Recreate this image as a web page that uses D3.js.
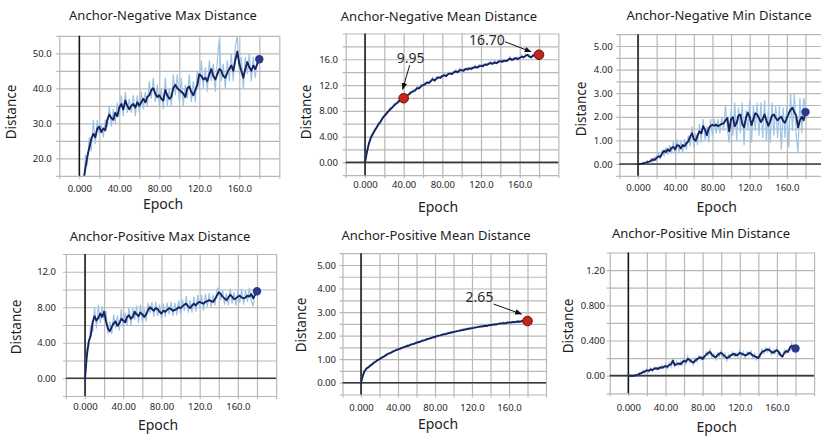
<!DOCTYPE html>
<html>
<head>
<meta charset="utf-8">
<script src="https://cdn.jsdelivr.net/npm/d3@7"></script>
<style>
body { margin: 0; background: #fff; }
svg text { font-family: "Noto Sans", sans-serif; fill: #1e1e1e; }
</style>
</head>
<body>
<script>
const epochs = [0, 2, 4, 6, 8, 10, 12, 14, 16, 18,
  20, 22, 24, 26, 28, 30, 32, 34, 36, 38,
  40, 42, 44, 46, 48, 50, 52, 54, 56, 58,
  60, 62, 64, 66, 68, 70, 72, 74, 76, 78,
  80, 82, 84, 86, 88, 90, 92, 94, 96, 98,
  100, 102, 104, 106, 108, 110, 112, 114, 116, 118,
  120, 122, 124, 126, 128, 130, 132, 134, 136, 138,
  140, 142, 144, 146, 148, 150, 152, 154, 156, 158,
  160, 162, 164, 166, 168, 170, 172, 174, 176, 178,
  180]

const titles = ['Anchor-Negative Max Distance', 'Anchor-Negative Mean Distance', 'Anchor-Negative Min Distance',
  'Anchor-Positive Max Distance', 'Anchor-Positive Mean Distance', 'Anchor-Positive Min Distance']

const xTicks = [0, 40, 80, 120, 160]
const xGrid = [-20, 0, 20, 40, 60, 80, 100, 120, 140, 160, 180, 200]

// Anchor-Negative Max
const anMaxRaw = [3, 14, 10, 21, 18, 26, 22, 31, 24, 31,
  27, 30, 26, 31, 29, 35, 29, 34, 30, 36,
  32, 38, 32, 39, 33, 37, 33, 38, 32, 38,
  33, 39, 34, 39, 35, 42, 37, 43, 36, 41,
  35, 40, 34, 43, 35, 40, 35, 44, 38, 44,
  36, 43, 35, 41, 37, 44, 36, 42, 36, 45,
  40, 48, 40, 46, 39, 48, 42, 47, 39, 48,
  54, 42, 47, 40, 48, 42, 50, 42, 52, 55,
  44, 49, 40, 49, 44, 50, 42, 49, 43, 49,
  48]
const anMaxSmooth = [5, 9, 13, 17, 20.5, 23, 25.5, 27, 26, 28.5,
  29, 27.5, 28.5, 28, 31, 32.5, 31.5, 31, 33, 32,
  34.5, 35.5, 34, 36.5, 35, 34, 35, 35.5, 34.5, 36,
  35, 36, 37, 36, 37.5, 38, 39.5, 40, 38.5, 37.5,
  38, 37, 36.5, 39.5, 38, 37, 37.5, 40, 41, 40,
  39.5, 39, 38.5, 37.5, 40, 40.5, 39, 38, 39.5, 41,
  44, 43.5, 42.5, 43, 42, 44, 45.5, 43.5, 42.5, 44,
  45.5, 45, 43.5, 43, 44.5, 45.5, 46.5, 45, 48, 50.5,
  47, 45, 43, 45.5, 47.5, 46, 45, 46.5, 45.5, 47,
  48.3]
const anMaxTicks = [20, 30, 40, 50]

// Anchor-Negative Mean
const anMeanRaw = [0, 1.9, 2.7, 4.1, 4.3, 5.2, 5.3, 6.1, 6.2, 7.0,
  7.1, 7.8, 7.8, 8.5, 8.4, 9.1, 9.0, 9.6, 9.5, 10.0,
  9.9, 10.5, 10.3, 10.9, 10.8, 11.3, 11.1, 11.8, 11.4, 12.1,
  11.9, 12.4, 12.3, 12.6, 12.5, 13.2, 12.6, 13.3, 13.1, 13.4,
  13.3, 13.8, 13.3, 14.0, 13.7, 14.0, 13.9, 14.4, 13.9, 14.6,
  14.2, 14.5, 14.4, 14.7, 14.5, 14.8, 14.6, 15.1, 14.6, 15.2,
  14.9, 15.2, 15.1, 15.4, 15.2, 15.7, 15.2, 15.8, 15.3, 15.9,
  15.6, 15.9, 15.7, 16.0, 15.8, 16.4, 15.8, 16.3, 16.1, 16.3,
  16.1, 16.7, 16.2, 16.8, 16.6, 16.7, 16.2, 16.9, 16.4, 16.9,
  16.7]
const anMeanSmooth = [0, 1.6, 2.9, 3.8, 4.4, 4.9, 5.4, 5.9, 6.3, 6.8,
  7.2, 7.5, 7.9, 8.2, 8.5, 8.8, 9.1, 9.3, 9.6, 9.8,
  9.95, 10.2, 10.4, 10.6, 10.9, 11.0, 11.2, 11.5, 11.5, 11.8,
  12.0, 12.1, 12.4, 12.3, 12.6, 12.9, 12.7, 13.0, 13.2, 13.1,
  13.4, 13.5, 13.4, 13.7, 13.8, 13.7, 14.0, 14.1, 14.0, 14.3,
  14.3, 14.2, 14.5, 14.4, 14.6, 14.5, 14.7, 14.8, 14.7, 14.9,
  15.0, 14.9, 15.2, 15.1, 15.3, 15.4, 15.3, 15.5, 15.4, 15.6,
  15.7, 15.6, 15.8, 15.7, 15.9, 16.1, 15.9, 16.0, 16.2, 16.0,
  16.2, 16.4, 16.3, 16.5, 16.7, 16.4, 16.3, 16.6, 16.5, 16.7,
  16.7]
const anMeanTicks = [0, 4, 8, 12, 16]
const anMeanNotes = [[40, 9.95, '9.95'], [180, 16.70, '16.70']]

// Anchor-Negative Min
const anMinRaw = [0, 0.02, 0, 0.08, 0.02, 0.15, 0.05, 0.22, 0.1, 0.3,
  0.15, 0.45, 0.2, 0.6, 0.35, 0.7, 0.4, 0.8, 0.45, 0.95,
  0.4, 1.05, 0.5, 1.0, 0.45, 1.05, 0.6, 1.2, 0.75, 1.6,
  0.7, 1.3, 0.8, 1.7, 0.9, 1.9, 1.0, 1.6, 0.9, 1.9,
  1.2, 1.9, 1.3, 1.9, 1.3, 2.0, 1.4, 2.5, 1.5, 0.9,
  2.3, 1.2, 2.6, 1.0, 2.4, 1.3, 2.6, 0.8, 2.3, 1.4,
  2.7, 0.9, 2.5, 1.4, 2.6, 1.2, 2.6, 1.1, 2.7, 1.0,
  2.3, 0.9, 2.6, 1.2, 2.5, 1.1, 2.5, 0.6, 2.4, 1.1,
  2.5, 0.7, 3.0, 1.4, 3.0, 1.2, 0.5, 2.8, 1.3, 2.8,
  2.2]
const anMinSmooth = [0, 0, 0.01, 0.03, 0.05, 0.08, 0.1, 0.13, 0.2, 0.17,
  0.26, 0.32, 0.3, 0.45, 0.56, 0.5, 0.62, 0.55, 0.68, 0.72,
  0.62, 0.8, 0.78, 0.66, 0.8, 0.75, 0.88, 0.95, 1.15, 1.3,
  1.05, 0.98, 1.2, 1.38, 1.3, 1.6, 1.45, 1.22, 1.5, 1.62,
  1.66, 1.62, 1.67, 1.6, 1.65, 1.7, 1.72, 1.85, 1.95, 1.38,
  1.9, 1.98, 1.6, 1.75, 2.05, 2.1, 1.7, 1.55, 1.95, 2.18,
  2.0, 1.65, 1.9, 2.15, 2.1, 1.95, 1.78, 1.9, 2.1, 1.85,
  1.62, 1.8, 2.05, 2.1, 1.95, 1.85, 1.95, 2.0, 1.82, 1.75,
  1.95, 2.15, 2.3, 2.38, 2.2, 2.05, 1.55, 1.85, 2.0, 1.85,
  2.2]
const anMinTicks = [0, 1, 2, 3, 4, 5]

// Anchor-Positive Max
const apMaxRaw = [0, 3.4, 3.6, 6.0, 5.2, 8.0, 5.6, 8.3, 6.2, 8.1,
  6.6, 7.6, 5.0, 6.4, 5.0, 7.2, 5.6, 7.1, 5.4, 7.8,
  5.7, 7.4, 6.0, 8.0, 5.9, 7.9, 6.6, 8.2, 6.2, 8.3,
  6.3, 7.8, 6.4, 8.5, 7.3, 8.6, 6.9, 8.6, 7.0, 8.3,
  6.7, 8.4, 6.9, 8.5, 7.2, 8.6, 7.0, 8.5, 7.1, 8.8,
  7.2, 8.9, 7.6, 9.3, 7.4, 8.8, 7.4, 9.2, 7.5, 9.4,
  7.9, 9.4, 7.6, 9.5, 8.0, 9.6, 8.0, 9.4, 8.2, 10.0,
  10.2, 8.8, 10.0, 8.3, 9.6, 8.2, 10.1, 8.4, 9.7, 8.2,
  10.0, 8.5, 10.1, 8.3, 9.9, 8.6, 10.2, 8.7, 8.1, 10.0,
  9.8]
const apMaxSmooth = [0, 2.6, 4.2, 4.8, 6.3, 7.0, 6.5, 6.8, 7.3, 6.9,
  7.5, 6.4, 5.6, 5.3, 5.8, 6.2, 6.4, 5.9, 6.2, 6.7,
  6.5, 6.3, 6.9, 7.1, 6.7, 6.9, 7.5, 7.2, 7.0, 7.4,
  7.2, 6.9, 7.2, 7.7, 8.0, 7.8, 7.6, 7.9, 7.8, 7.5,
  7.3, 7.6, 7.5, 7.7, 7.9, 7.8, 7.6, 7.7, 7.8, 8.0,
  7.9, 8.1, 8.3, 8.4, 8.1, 7.9, 8.2, 8.4, 8.2, 8.5,
  8.6, 8.5, 8.4, 8.6, 8.7, 8.8, 8.7, 8.6, 8.9, 9.3,
  9.7, 9.5, 9.2, 9.0, 8.8, 9.1, 9.4, 9.2, 8.9, 9.0,
  9.2, 9.3, 9.1, 9.0, 9.1, 9.3, 9.2, 9.5, 9.0, 9.4,
  9.8]
const apMaxTicks = [0, 4, 8, 12]

// Anchor-Positive Mean
const apMeanRaw = [0, 0.36, 0.47, 0.65, 0.63, 0.77, 0.75, 0.9, 0.87, 1.0,
  0.97, 1.09, 1.07, 1.18, 1.17, 1.28, 1.24, 1.35, 1.32, 1.42,
  1.39, 1.48, 1.45, 1.54, 1.5, 1.6, 1.55, 1.66, 1.61, 1.7,
  1.67, 1.76, 1.71, 1.82, 1.77, 1.86, 1.83, 1.91, 1.87, 1.97,
  1.91, 2.02, 1.97, 2.05, 2.01, 2.1, 2.04, 2.14, 2.09, 2.17,
  2.13, 2.21, 2.16, 2.24, 2.2, 2.28, 2.23, 2.31, 2.26, 2.34,
  2.29, 2.37, 2.32, 2.4, 2.35, 2.43, 2.37, 2.46, 2.38, 2.48,
  2.42, 2.5, 2.45, 2.51, 2.47, 2.55, 2.49, 2.57, 2.49, 2.59,
  2.53, 2.59, 2.55, 2.61, 2.56, 2.64, 2.56, 2.66, 2.58, 2.67,
  2.62]
const apMeanSmooth = [0, 0.3, 0.5, 0.6, 0.66, 0.72, 0.78, 0.85, 0.9, 0.96,
  1.0, 1.05, 1.1, 1.14, 1.2, 1.24, 1.27, 1.31, 1.35, 1.38,
  1.42, 1.44, 1.48, 1.5, 1.53, 1.56, 1.58, 1.62, 1.64, 1.66,
  1.7, 1.72, 1.74, 1.78, 1.8, 1.82, 1.86, 1.87, 1.9, 1.93,
  1.94, 1.98, 2.0, 2.01, 2.04, 2.06, 2.07, 2.1, 2.12, 2.13,
  2.16, 2.17, 2.19, 2.2, 2.23, 2.24, 2.26, 2.27, 2.29, 2.3,
  2.32, 2.33, 2.35, 2.36, 2.38, 2.39, 2.4, 2.42, 2.41, 2.44,
  2.45, 2.46, 2.48, 2.47, 2.5, 2.51, 2.52, 2.53, 2.52, 2.55,
  2.56, 2.55, 2.58, 2.57, 2.59, 2.6, 2.59, 2.62, 2.61, 2.63,
  2.62]
const apMeanTicks = [0, 1, 2, 3, 4, 5]
const apMeanNotes = [[180, 2.62, '2.65']]

// Anchor-Positive Min
const apMinRaw = [0, 0, 0.005, 0, 0.015, 0, 0.035, 0.015, 0.06, 0.03,
  0.08, 0.04, 0.09, 0.05, 0.1, 0.07, 0.1, 0.07, 0.12, 0.08,
  0.13, 0.08, 0.15, 0.1, 0.2, 0.1, 0.16, 0.11, 0.16, 0.12,
  0.2, 0.13, 0.22, 0.15, 0.19, 0.12, 0.2, 0.16, 0.23, 0.18,
  0.22, 0.19, 0.27, 0.23, 0.3, 0.21, 0.25, 0.18, 0.26, 0.22,
  0.29, 0.21, 0.25, 0.17, 0.24, 0.2, 0.27, 0.22, 0.26, 0.21,
  0.29, 0.22, 0.27, 0.2, 0.27, 0.23, 0.28, 0.2, 0.25, 0.18,
  0.23, 0.21, 0.3, 0.25, 0.32, 0.27, 0.32, 0.24, 0.29, 0.25,
  0.32, 0.24, 0.26, 0.19, 0.29, 0.25, 0.3, 0.29, 0.37, 0.3,
  0.31]
const apMinSmooth = [0, 0, 0, 0, 0.005, 0.01, 0.02, 0.03, 0.04, 0.05,
  0.06, 0.055, 0.07, 0.065, 0.08, 0.085, 0.075, 0.095, 0.09, 0.1,
  0.11, 0.1, 0.12, 0.13, 0.17, 0.12, 0.13, 0.14, 0.13, 0.15,
  0.17, 0.16, 0.19, 0.18, 0.16, 0.15, 0.17, 0.19, 0.2, 0.21,
  0.19, 0.22, 0.24, 0.26, 0.27, 0.24, 0.22, 0.21, 0.23, 0.25,
  0.26, 0.24, 0.22, 0.2, 0.21, 0.23, 0.24, 0.25, 0.23, 0.24,
  0.26, 0.25, 0.24, 0.23, 0.24, 0.26, 0.25, 0.23, 0.22, 0.21,
  0.2, 0.24, 0.27, 0.28, 0.29, 0.3, 0.29, 0.27, 0.26, 0.28,
  0.29, 0.27, 0.23, 0.22, 0.26, 0.28, 0.27, 0.32, 0.34, 0.33,
  0.31]
const apMinTicks = [0, 0.4, 0.8, 1.2]

const rawColor = '#9cc4e5'
const lineColor = '#17225f'
const dotColor = '#2b388c'
const redColor = '#c2261c'

// layout of each panel
const panels = [
  {title: titles[0], raw: anMaxRaw, smooth: anMaxSmooth, ticks: anMaxTicks, dom: [15, 55], step: 5,
   xs: [79.3, 259.3], ys: [175.8, 35.8], tx: 163, ty: 15, dx: 11.7, dy: 112, ex: 163, ey: 204.5, lx: 188.5, rx: 51.7, notes: []},
  {title: titles[1], raw: anMeanRaw, smooth: anMeanSmooth, ticks: anMeanTicks, dom: [-2, 20], step: 2,
   xs: [365, 539], ys: [175.2, 33.5], tx: 439, ty: 16, dx: 306.7, dy: 112, ex: 438, ey: 207, lx: 185, rx: 338, notes: anMeanNotes},
  {title: titles[2], raw: anMinRaw, smooth: anMinSmooth, ticks: anMinTicks, dom: [-0.5, 5.5], step: 0.5,
   xs: [638, 805.5], ys: [175.8, 34.2], tx: 719, ty: 15, dx: 581.7, dy: 109, ex: 716.7, ey: 207, lx: 188, rx: 612.7, notes: []},
  {title: titles[3], raw: apMaxRaw, smooth: apMaxSmooth, ticks: apMaxTicks, dom: [-2, 14], step: 2,
   xs: [85, 257], ys: [396, 254], tx: 160, ty: 236.7, dx: 16.7, dy: 327, ex: 158, ey: 425, lx: 406.7, rx: 56, notes: []},
  {title: titles[4], raw: apMeanRaw, smooth: apMeanSmooth, ticks: apMeanTicks, dom: [-0.5, 5.5], step: 0.5,
   xs: [361, 527.5], ys: [394.5, 253.2], tx: 436, ty: 235, dx: 301.7, dy: 325, ex: 438, ey: 424, lx: 407.7, rx: 336, notes: apMeanNotes},
  {title: titles[5], raw: apMinRaw, smooth: apMinSmooth, ticks: apMinTicks, dom: [-0.2, 1.4], step: 0.2,
   xs: [628.3, 795.5], ys: [393.3, 252.5], tx: 701, ty: 233, dx: 568.3, dy: 326, ex: 716.7, ey: 427.5, lx: 407.7, rx: 605, notes: []}
]

// where the annotation text and arrow sit relative to the marked point
const noteOffsets = {'9.95': [7, -40, 6, -33, -1, -9], '16.70': [-52, -15, -34, -13, -8, -3], '2.65': [-48, -24, -34, -17, -6, -7]}

let svg = d3.select('body').append('svg')
  .attr('width', 821)
  .attr('height', 437)

svg.append('defs').append('marker')
  .attr('id', 'arrow')
  .attr('viewBox', '0 0 10 10')
  .attr('refX', 9).attr('refY', 5)
  .attr('markerWidth', 7).attr('markerHeight', 7)
  .attr('orient', 'auto')
  .append('path')
  .attr('d', 'M0,1 L10,5 L0,9 Z')
  .attr('fill', '#111')

let xFmt = d3.format('.4r')
let yFmt = d3.format('.3r')

panels.forEach((p, i) => {
  let pxPer = (p.xs[1] - p.xs[0]) / 180
  let x = d3.scaleLinear().domain([-20, 200]).range([p.xs[0] - 20 * pxPer, p.xs[0] + 200 * pxPer])
  let y = d3.scaleLinear().domain(p.dom).range(p.ys)
  let left = x(-20), right = Math.min(x(200), 821), top = y(p.dom[1]), bottom = y(p.dom[0])

  let g = svg.append('g')

  // grid
  let yGrid = d3.range(p.dom[0], p.dom[1] + p.step / 2, p.step)
  g.append('g')
    .attr('transform', `translate(${left - 3}, 0)`)
    .call(d3.axisLeft(y).tickValues(yGrid).tickSize(-(right - left + 3)).tickFormat(''))
    .call(a => a.select('.domain').remove())
    .call(a => a.selectAll('line').attr('stroke', '#b8b8b8').attr('stroke-width', 1.2))

  g.append('g')
    .attr('transform', `translate(0, ${bottom + 3})`)
    .call(d3.axisBottom(x).tickValues(xGrid).tickSize(-(bottom - top + 3)).tickFormat(''))
    .call(a => a.select('.domain').remove())
    .call(a => a.selectAll('line').attr('stroke', '#b8b8b8').attr('stroke-width', 1.2))

  // zero lines
  if (p.dom[0] < 0) {
    g.append('line')
      .attr('x1', left).attr('x2', right)
      .attr('y1', y(0)).attr('y2', y(0))
      .attr('stroke', '#3a3a3a').attr('stroke-width', 1.7)
  }
  g.append('line')
    .attr('x1', x(0)).attr('x2', x(0))
    .attr('y1', top).attr('y2', bottom)
    .attr('stroke', '#151515').attr('stroke-width', 1.5)

  // tick labels
  g.append('g')
    .attr('transform', `translate(0, ${p.lx - 4})`)
    .call(d3.axisBottom(x).tickValues(xTicks).tickSize(0).tickFormat(xFmt))
    .call(a => a.select('.domain').remove())
    .call(a => a.selectAll('text').attr('font-size', 9.5).attr('dy', '0.35em').attr('y', 4).style('font-family', '"Noto Sans", sans-serif'))

  g.append('g')
    .attr('transform', `translate(${p.rx}, 0)`)
    .call(d3.axisLeft(y).tickValues(p.ticks).tickSize(0).tickPadding(0).tickFormat(yFmt))
    .call(a => a.select('.domain').remove())
    .call(a => a.selectAll('text').attr('font-size', 9.5).style('font-family', '"Noto Sans", sans-serif'))

  // clip
  g.append('clipPath').attr('id', 'clip' + i)
    .append('rect')
    .attr('x', left).attr('y', top)
    .attr('width', right - left).attr('height', bottom - top)

  let line = (vals) => d3.line()
    .x((d, k) => x(epochs[k]))
    .y(d => y(d))(vals)

  g.append('path')
    .attr('d', line(p.raw))
    .attr('fill', 'none')
    .attr('stroke', rawColor)
    .attr('stroke-width', 1.2)
    .attr('clip-path', `url(#clip${i})`)

  g.append('path')
    .attr('d', line(p.smooth))
    .attr('fill', 'none')
    .attr('stroke', lineColor)
    .attr('stroke-width', 1.9)
    .attr('stroke-linejoin', 'round')
    .attr('clip-path', `url(#clip${i})`)

  // end dot / annotated points
  if (p.notes.length == 0) {
    g.append('circle')
      .attr('cx', x(epochs[epochs.length - 1]))
      .attr('cy', y(p.smooth[p.smooth.length - 1]))
      .attr('r', 4.2)
      .attr('fill', dotColor)
  }
  p.notes.forEach(n => {
    let cx = x(n[0]), cy = y(n[1])
    let o = noteOffsets[n[2]]
    g.append('line')
      .attr('x1', cx + o[2]).attr('y1', cy + o[3])
      .attr('x2', cx + o[4]).attr('y2', cy + o[5])
      .attr('stroke', '#111').attr('stroke-width', 1)
      .attr('marker-end', 'url(#arrow)')
    g.append('circle')
      .attr('cx', cx).attr('cy', cy)
      .attr('r', 4.8)
      .attr('fill', redColor)
      .attr('stroke', '#6a120c').attr('stroke-width', 1)
    g.append('text')
      .attr('x', cx + o[0]).attr('y', cy + o[1])
      .attr('dy', '0.35em')
      .attr('text-anchor', 'middle')
      .attr('font-size', 14)
      .style('fill', '#2a2a2a')
      .text(n[2])
  })

  // titles
  g.append('text')
    .attr('x', p.tx).attr('y', p.ty).attr('dy', '0.35em')
    .attr('text-anchor', 'middle')
    .attr('font-size', 13)
    .text(p.title)

  g.append('text')
    .attr('transform', `translate(${p.dx}, ${p.dy}) rotate(-90)`)
    .attr('dy', '0.35em')
    .attr('text-anchor', 'middle')
    .attr('font-size', 13.5)
    .text('Distance')

  g.append('text')
    .attr('x', p.ex).attr('y', p.ey).attr('dy', '0.35em')
    .attr('text-anchor', 'middle')
    .attr('font-size', 14)
    .text('Epoch')
})
</script>
</body>
</html>
